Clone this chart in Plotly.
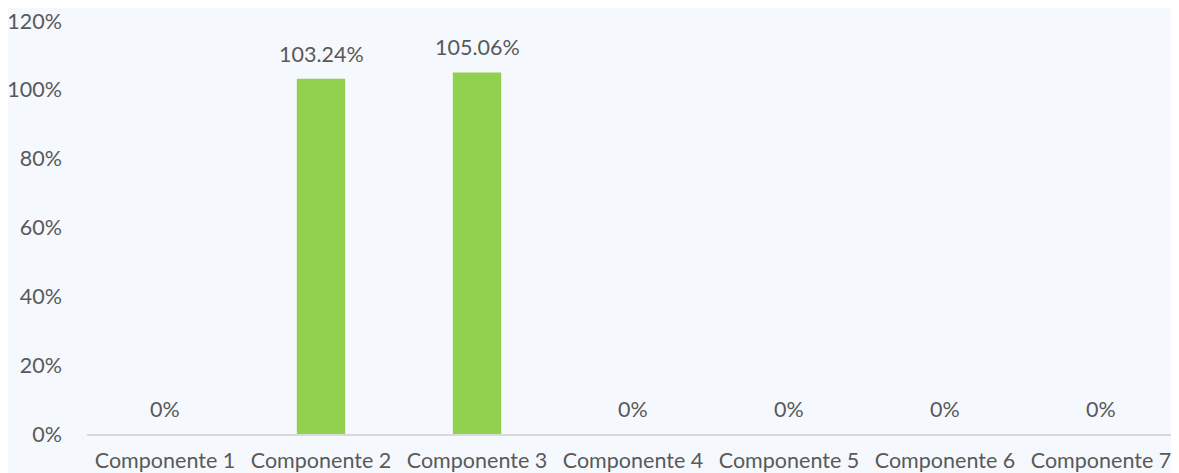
import plotly.graph_objects as go

categories = ["Componente 1", "Componente 2", "Componente 3", "Componente 4",
              "Componente 5", "Componente 6", "Componente 7"]
values = [0, 103.24, 105.06, 0, 0, 0, 0]
value_labels = ["0%", "103.24%", "105.06%", "0%", "0%", "0%", "0%"]
y_ticks = [0, 20, 40, 60, 80, 100, 120]
y_tick_labels = ["0%", "20%", "40%", "60%", "80%", "100%", "120%"]

FONT = "Lato, Carlito, Calibri, sans-serif"
TXT = "#595959"
FS = 21.5

fig = go.Figure()
fig.add_trace(go.Bar(x=categories, y=values, marker_color="#92d050",
                     marker_line_width=0, hoverinfo="skip"))

for c, v, t in zip(categories, values, value_labels):
    fig.add_annotation(x=c, y=v, text=t, showarrow=False, yanchor="bottom",
                       yshift=10, font=dict(family=FONT, size=FS, color=TXT))

fig.update_layout(
    width=1171, height=465,
    margin=dict(l=79, r=0, t=13, b=39),
    paper_bgcolor="#f5f9fd", plot_bgcolor="rgba(0,0,0,0)",
    bargap=0.69, showlegend=False,
    font=dict(family=FONT, size=FS, color=TXT),
)
fig.update_xaxes(showgrid=False, showline=True, linecolor="#d9d9d9", linewidth=1.5,
                 ticks="", ticklabelstandoff=6, automargin=False,
                 ticklabeloverflow="allow",
                 tickfont=dict(size=FS, color=TXT))
fig.update_yaxes(range=[0, 120], tickvals=y_ticks, ticktext=y_tick_labels,
                 showgrid=False, zeroline=False, showline=False, ticks="",
                 ticklabelstandoff=24, automargin=False,
                 ticklabeloverflow="allow",
                 tickfont=dict(size=FS, color=TXT))

fig.write_html("out.html")
